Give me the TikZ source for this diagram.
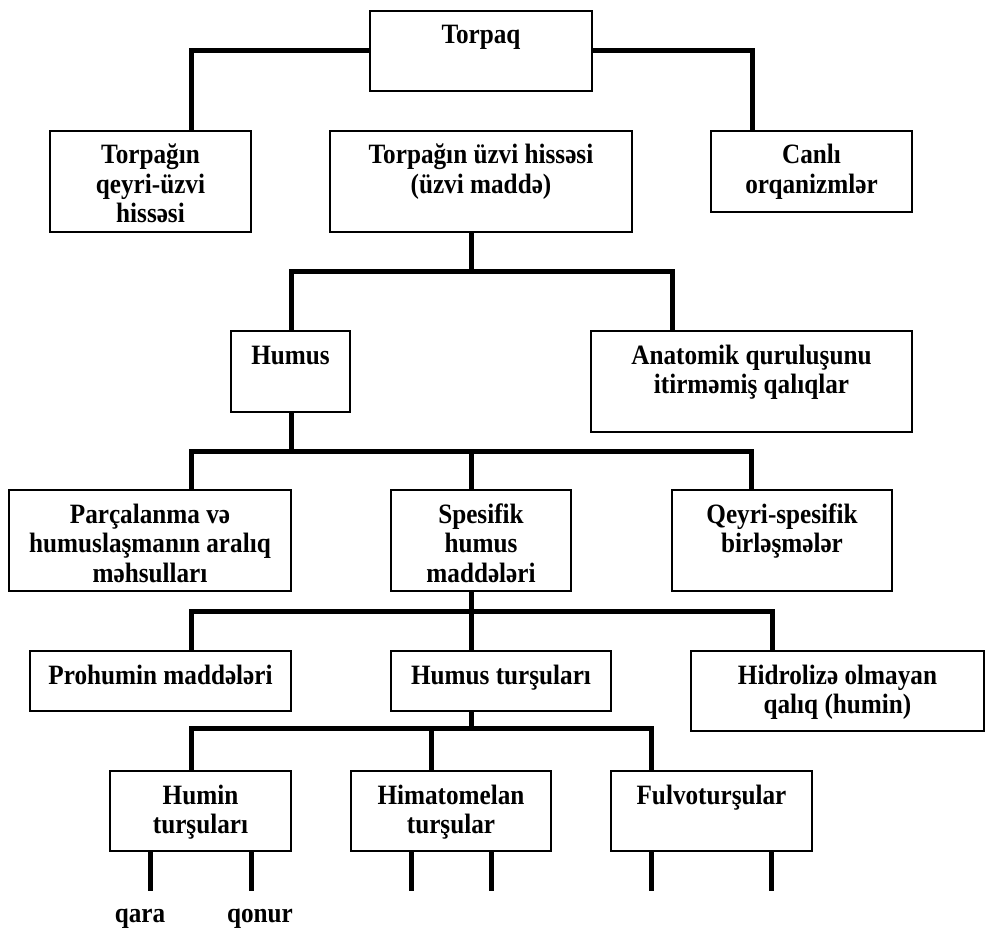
\documentclass[tikz,border=0pt]{standalone}
\usepackage{fontspec}
\setmainfont{Liberation Serif}[FakeStretch=0.9]

% a box body of fixed size (width, height in pt) with its lines set from the top
\newcommand\celltext[3]{\parbox[c][#2pt][t]{#1pt}{\centering\rule{0pt}{33pt}#3}}

\tikzset{
  cell/.style={draw=black, line width=1.6pt, inner sep=0pt, outer sep=0pt,
               anchor=north west, fill=white},
  link/.style={draw=black, line width=5pt},
  leaf/.style={inner sep=0pt, anchor=base},
}

\begin{document}
\begin{tikzpicture}[x=1pt, y=-1pt, font=\fontsize{28}{29.5}\selectfont\bfseries]
\useasboundingbox (0,0) rectangle (986,928);

% ---- boxes --------------------------------------------------------------
\node[cell] (torpaq) at (370,11)  {\celltext{222}{80}{Torpaq}};

\node[cell] (qeyri)  at (50,131)  {\celltext{201}{101}{Torpağın\\qeyri-üzvi\\hissəsi}};
\node[cell] (uzvi)   at (330,131) {\celltext{302}{101}{Torpağın üzvi hissəsi\\(üzvi maddə)}};
\node[cell] (canli)  at (711,131) {\celltext{201}{81}{Canlı\\orqanizmlər}};

\node[cell] (humus)  at (231,331) {\celltext{119}{81}{Humus}};
\node[cell] (anat)   at (591,331) {\celltext{321}{101}{Anatomik quruluşunu\\itirməmiş qalıqlar}};

\node[cell] (parc)   at (9,490)   {\celltext{282}{101}{Parçalanma və\\humuslaşmanın aralıq\\məhsulları}};
\node[cell] (spes)   at (391,490) {\celltext{180}{101}{Spesifik\\humus\\maddələri}};
\node[cell] (qspes)  at (672,490) {\celltext{220}{101}{Qeyri-spesifik\\birləşmələr}};

\node[cell] (prohum) at (30,651)  {\celltext{261}{60}{Prohumin maddələri}};
\node[cell] (humt)   at (391,651) {\celltext{220}{60}{Humus turşuları}};
\node[cell] (hidr)   at (691,651) {\celltext{293}{80}{Hidrolizə olmayan\\qalıq (humin)}};

\node[cell] (humin)  at (110,771) {\celltext{181}{80}{Humin\\turşuları}};
\node[cell] (himat)  at (351,771) {\celltext{200}{80}{Himatomelan\\turşular}};
\node[cell] (fulvo)  at (611,771) {\celltext{201}{80}{Fulvoturşular}};

% ---- junction points ----------------------------------------------------
\coordinate (t1) at (191,52);  \coordinate (t2) at (752,52);

\coordinate (u0) at (471,232); \coordinate (u1) at (471,272);
\coordinate (u2) at (291,272); \coordinate (u3) at (672,272);

\coordinate (h0) at (291,412); \coordinate (h1) at (291,451);
\coordinate (h2) at (191,451); \coordinate (h3) at (471,451); \coordinate (h4) at (751,451);

\coordinate (s0) at (471,591); \coordinate (s1) at (471,611);
\coordinate (s2) at (191,611); \coordinate (s3) at (772,611);

\coordinate (a0) at (471,711); \coordinate (a1) at (471,728);
\coordinate (a2) at (191,728); \coordinate (a3) at (431,728); \coordinate (a4) at (651,728);

% ---- connectors ---------------------------------------------------------
\draw[link] (torpaq.west) -| (t1 |- qeyri.north);
\draw[link] (torpaq.east) -| (t2 |- canli.north);

\draw[link] (u0) -- (u1);
\draw[link] (u2 |- humus.north) -- (u2) -- (u3) -- (u3 |- anat.north);

\draw[link] (h0) -- (h1);
\draw[link] (h2 |- parc.north) -- (h2) -- (h4) -- (h4 |- qspes.north);
\draw[link] (h3) -- (h3 |- spes.north);

\draw[link] (s0) -- (s1);
\draw[link] (s2 |- prohum.north) -- (s2) -- (s3) -- (s3 |- hidr.north);
\draw[link] (s1) -- (s1 |- humt.north);

\draw[link] (a0) -- (a1);
\draw[link] (a2 |- humin.north) -- (a2) -- (a4) -- (a4 |- fulvo.north);
\draw[link] (a3) -- (a3 |- himat.north);

% ---- open branches below the last row -----------------------------------
\foreach \px/\owner in {150/humin, 251/humin, 411/himat, 491/himat, 651/fulvo, 771/fulvo}{
  \coordinate (stub) at (\px,891);
  \draw[link] (stub |- \owner.south) -- (stub);
}

\node[leaf] (qara)  at (140,922) {qara};
\node[leaf] (qonur) at (260,922) {qonur};
\end{tikzpicture}
\end{document}
